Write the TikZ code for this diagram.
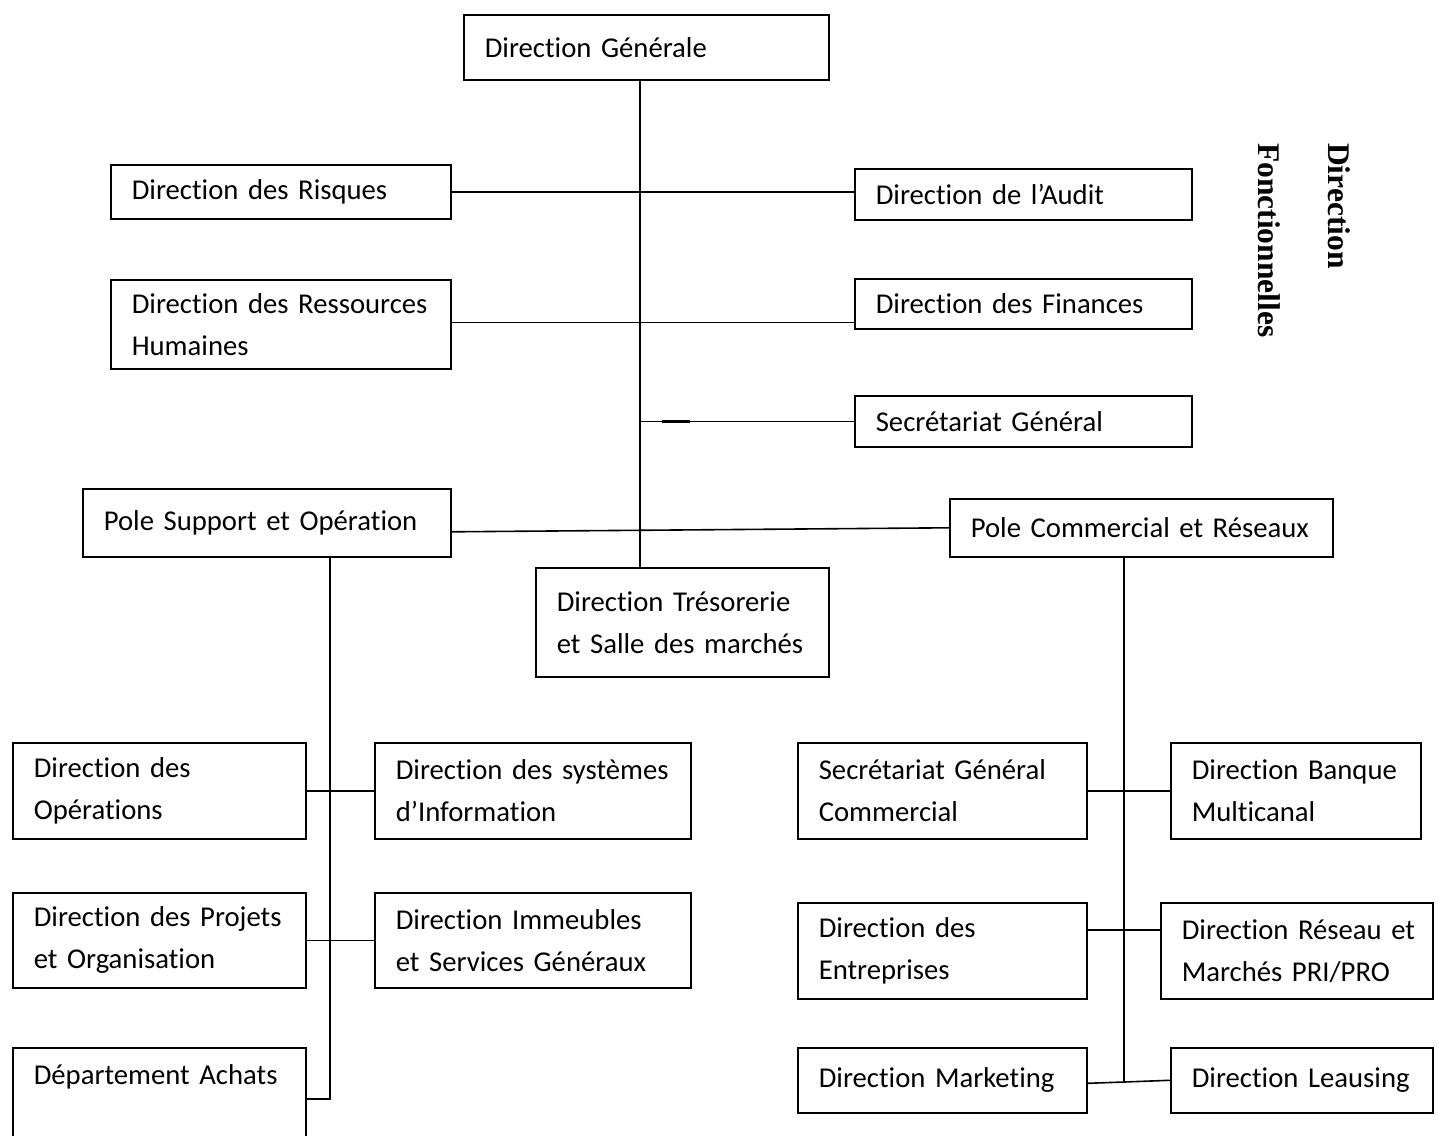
\documentclass[tikz,border=0pt]{standalone}
\usepackage{fontspec}
\setmainfont[Ligatures=NoCommon]{Carlito}
\newfontfamily\titlefont{Liberation Serif}
\usepackage{tikz}
\usetikzlibrary{positioning, calc}
\tikzset{
    orgbox/.style={draw, line width=1.6pt, anchor=north west, inner xsep=0pt, inner ysep=4pt, align=left,
        font=\fontsize{28.7}{42}\selectfont, execute at begin node={\leftskip=21pt\relax}},
    link/.style={line width=1.6pt},
    sidetitle/.style={rotate=-90, anchor=base west, inner sep=0pt, font=\titlefont\bfseries\fontsize{31.5}{36}\selectfont}
}

\begin{document}
\begin{tikzpicture}[x=1pt, y=-1pt]
    \useasboundingbox (0,0) rectangle (1439,1135);
    \clip (0,0) rectangle (1439,1135);
    % Top level
    \node[orgbox, minimum width=365pt, minimum height=65pt, text width=365pt] (dg) at (463,14) {Direction Générale};
    % Functional directions
    \node[orgbox, minimum width=340pt, minimum height=54pt, text width=340pt] (risk) at (110,164) {Direction des Risques};
    \node[orgbox, minimum width=337pt, minimum height=51pt, text width=337pt] (audit) at (854,168) {Direction de l’Audit};
    \node[orgbox, minimum width=340pt, minimum height=89pt, text width=340pt] (rh) at (110,279) {Direction des Ressources\\Humaines};
    \node[orgbox, minimum width=337pt, minimum height=50pt, text width=337pt] (fin) at (854,278) {Direction des Finances};
    \node[orgbox, minimum width=337pt, minimum height=51pt, text width=337pt] (sg) at (854,395) {Secrétariat Général};
    % Poles
    \node[orgbox, minimum width=368pt, minimum height=68pt, text width=368pt] (pso) at (82,488) {Pole Support et Opération};
    \node[orgbox, minimum width=383pt, minimum height=58pt, text width=383pt] (pco) at (949,498) {Pole Commercial et Réseaux};
    \node[orgbox, minimum width=293pt, minimum height=109pt, text width=293pt] (treso) at (535,567) {Direction Trésorerie\\et Salle des marchés};
    % Support side
    \node[orgbox, minimum width=293pt, minimum height=96pt, text width=293pt] (ops) at (12,742) {Direction des\\Opérations};
    \node[orgbox, minimum width=316pt, minimum height=96pt, text width=316pt] (si) at (374,742) {Direction des systèmes\\d’Information};
    \node[orgbox, minimum width=293pt, minimum height=95pt, text width=293pt] (proj) at (12,892) {Direction des Projets\\et Organisation};
    \node[orgbox, minimum width=316pt, minimum height=95pt, text width=316pt] (imm) at (374,892) {Direction Immeubles\\et Services Généraux};
    \node[orgbox, minimum width=293pt, inner ysep=17pt, text depth=90pt, text width=293pt] (achats) at (12,1047) {Département Achats};
    % Commercial side
    \node[orgbox, minimum width=289pt, minimum height=96pt, text width=289pt] (sgc) at (797,742) {Secrétariat Général\\Commercial};
    \node[orgbox, minimum width=250pt, minimum height=96pt, text width=250pt] (bmc) at (1170,742) {Direction Banque\\Multicanal};
    \node[orgbox, minimum width=289pt, minimum height=96pt, text width=289pt] (ent) at (797,902) {Direction des\\Entreprises};
    \node[orgbox, minimum width=272pt, minimum height=96pt, text width=272pt] (res) at (1160,902) {Direction Réseau et\\Marchés PRI/PRO};
    \node[orgbox, minimum width=289pt, minimum height=65pt, text width=289pt] (mkt) at (797,1047) {Direction Marketing};
    \node[orgbox, minimum width=262pt, minimum height=65pt, text width=262pt] (leas) at (1170,1047) {Direction Leausing};
    % Side title
    \node[sidetitle] (titleA) at (1328,143) {Direction};
    \node[sidetitle] (titleB) at (1258,143) {Fonctionnelles};
    % Trunks
    \coordinate (trunk) at (640,0);
    \coordinate (lend) at (330,1099);
    \coordinate (rend) at (1124,1082);
    \draw[link] (dg.south -| trunk) -- (treso.north -| trunk);
    \draw[link] (risk.east) -- (risk.east -| audit.west);
    \draw[link] ([yshift=2pt]rh.east) -- ([yshift=2pt]rh.east -| fin.west);
    \draw[link] (sg.west -| trunk) -- (sg.west);
    \draw[line width=2.6pt] ([xshift=22pt]sg.west -| trunk) -- ([xshift=50pt]sg.west -| trunk);
    \draw[link] ([yshift=-9pt]pso.east) -- (pco.west);
    % Support pole links
    \draw[link] (pso.south -| lend) -- (lend) -- (lend -| achats.east);
    \draw[link] (ops.east) -- (si.west);
    \draw[link] (proj.east) -- (imm.west);
    % Commercial pole links
    \draw[link] (pco.south -| rend) -- (rend);
    \draw[link] (sgc.east) -- (bmc.west);
    \draw[link] ([yshift=21pt]ent.east) -- ([yshift=21pt]ent.east -| res.west);
    \draw[link] ([yshift=-3pt]mkt.east) -- (rend) -- (leas.west);
\end{tikzpicture}
\end{document}
